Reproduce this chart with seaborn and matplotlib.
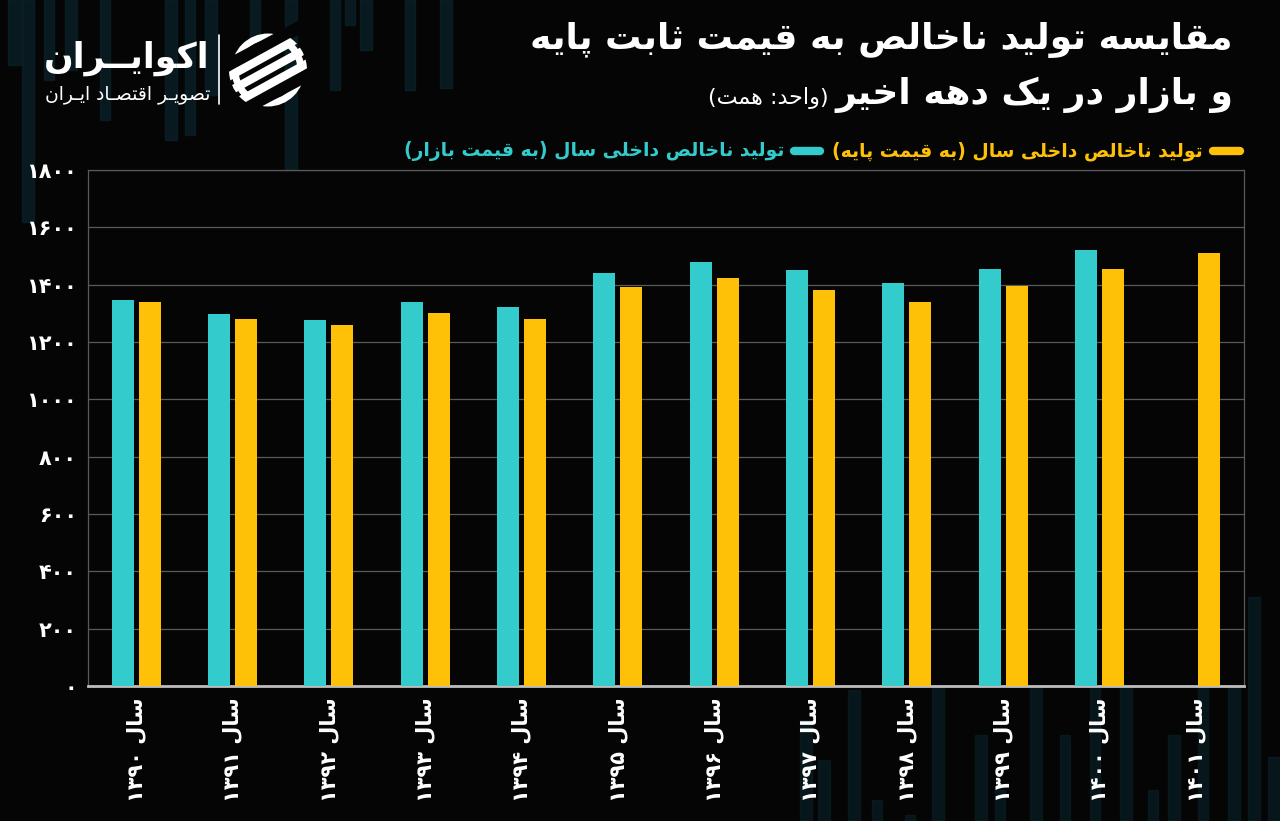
import re
import numpy as np
import pandas as pd
import matplotlib
matplotlib.use("Agg")
import matplotlib.pyplot as plt
from matplotlib.patches import Rectangle, Circle
import seaborn as sns

# ---------------- data ----------------
years = ["۱۳۹۰", "۱۳۹۱", "۱۳۹۲", "۱۳۹۳", "۱۳۹۴", "۱۳۹۵",
         "۱۳۹۶", "۱۳۹۷", "۱۳۹۸", "۱۳۹۹", "۱۴۰۰", "۱۴۰۱"]
gdp_market = [1347, 1297, 1277, 1341, 1322, 1439,
              1479, 1451, 1406, 1453, 1522, np.nan]
gdp_base = [1338, 1281, 1259, 1302, 1280, 1392,
            1423, 1381, 1340, 1394, 1455, 1509]
y_ticks = [0, 200, 400, 600, 800, 1000, 1200, 1400, 1600, 1800]

title_1 = "مقایسه تولید ناخالص به قیمت ثابت پایه"
title_2 = "و بازار در یک دهه اخیر"
unit_txt = "(واحد: همت)"
series_market = "تولید ناخالص داخلی سال (به قیمت بازار)"
series_base = "تولید ناخالص داخلی سال (به قیمت پایه)"
year_prefix = "سال"
brand = "اکوایــران"
brand_sub = "تصویـر اقتصـاد ایـران"

COL_MARKET = "#33CBCB"
COL_BASE = "#FFC107"
BG = "#050505"

# ---------------- minimal Persian shaping (presentation forms + RTL) ----------------
FORMS = {
    'ا': (0xFE8D, 0xFE8E),
    'ب': (0xFE8F, 0xFE90, 0xFE91, 0xFE92),
    'پ': (0xFB56, 0xFB57, 0xFB58, 0xFB59),
    'ت': (0xFE95, 0xFE96, 0xFE97, 0xFE98),
    'ث': (0xFE99, 0xFE9A, 0xFE9B, 0xFE9C),
    'ح': (0xFEA1, 0xFEA2, 0xFEA3, 0xFEA4),
    'خ': (0xFEA5, 0xFEA6, 0xFEA7, 0xFEA8),
    'د': (0xFEA9, 0xFEAA),
    'ر': (0xFEAD, 0xFEAE),
    'ز': (0xFEAF, 0xFEB0),
    'س': (0xFEB1, 0xFEB2, 0xFEB3, 0xFEB4),
    'ص': (0xFEB9, 0xFEBA, 0xFEBB, 0xFEBC),
    'ق': (0xFED5, 0xFED6, 0xFED7, 0xFED8),
    'ک': (0xFB8E, 0xFB8F, 0xFB90, 0xFB91),
    'ل': (0xFEDD, 0xFEDE, 0xFEDF, 0xFEE0),
    'م': (0xFEE1, 0xFEE2, 0xFEE3, 0xFEE4),
    'ن': (0xFEE5, 0xFEE6, 0xFEE7, 0xFEE8),
    'ه': (0xFEE9, 0xFEEA, 0xFEEB, 0xFEEC),
    'و': (0xFEED, 0xFEEE),
    'ی': (0xFBFC, 0xFBFD, 0xFBFE, 0xFBFF),
    '\u0640': (0x0640, 0x0640, 0x0640, 0x0640),
}


def shape(s):
    out = []
    n = len(s)
    for i, c in enumerate(s):
        if c not in FORMS:
            out.append(c)
            continue
        f = FORMS[c]
        prev = i > 0 and s[i - 1] in FORMS and len(FORMS[s[i - 1]]) == 4
        nxt = len(f) == 4 and i + 1 < n and s[i + 1] in FORMS
        if prev and nxt:
            cp = f[3]
        elif prev:
            cp = f[1]
        elif nxt:
            cp = f[2]
        else:
            cp = f[0]
        out.append(chr(cp))
    return "".join(out)


def fa(s):
    t = shape(s)[::-1]
    t = re.sub(r"[0-9\u06F0-\u06F9]+", lambda m: m.group(0)[::-1], t)
    return t.translate(str.maketrans("()", ")("))


# ---------------- figure ----------------
sns.set_theme(style="dark")
plt.rcParams["font.family"] = ["DejaVu Sans"]
W, H = 1280, 821
fig = plt.figure(figsize=(W / 100, H / 100), dpi=100, facecolor=BG)

# background / overlay axes in pixel coordinates
bg = fig.add_axes([0, 0, 1, 1], zorder=0)
bg.set_xlim(0, W)
bg.set_ylim(H, 0)
bg.axis("off")
bg.add_patch(Rectangle((0, 0), W, H, color=BG, zorder=0))

stripe = "#0a2229"
top_stripes = [(8, 14, 65), (22, 12, 222), (44, 10, 80), (65, 12, 70), (100, 10, 120),
               (165, 12, 140), (185, 10, 135), (205, 12, 95), (250, 10, 40),
               (285, 12, 222), (330, 10, 90), (345, 10, 25), (360, 12, 50),
               (405, 10, 90), (440, 12, 88)]
for x0, w, h in top_stripes:
    bg.add_patch(Rectangle((x0, 0), w, h, color=stripe, alpha=0.75, zorder=1))
bottom_stripes = [(800, 12, 720), (818, 12, 760), (848, 12, 690), (872, 10, 800),
                  (905, 10, 815), (932, 12, 650), (975, 12, 735), (995, 10, 790),
                  (1030, 12, 625), (1060, 10, 735), (1090, 10, 650), (1120, 12, 680),
                  (1148, 10, 790), (1168, 12, 735), (1198, 10, 615), (1228, 12, 610),
                  (1248, 12, 597), (1268, 12, 757)]
for x0, w, y0 in bottom_stripes:
    bg.add_patch(Rectangle((x0, y0), w, H - y0, color=stripe, alpha=0.6, zorder=1))

# ---------------- main chart ----------------
ax = fig.add_axes([88 / W, (H - 686) / H, (1244 - 88) / W, (686 - 170) / H], zorder=2)
ax.set_facecolor(BG)

lab_market = "market"
lab_base = "base"
df = pd.DataFrame({
    "year": years * 2,
    "value": gdp_market + gdp_base,
    "series": [lab_market] * len(years) + [lab_base] * len(years),
})
sns.barplot(data=df, x="year", y="value", hue="series", order=years,
            hue_order=[lab_market, lab_base],
            palette={lab_market: COL_MARKET, lab_base: COL_BASE},
            width=0.56, gap=0.18, saturation=1, legend=False, ax=ax, zorder=3,
            linewidth=0, edgecolor="none")

ax.set_xlim(-0.5, len(years) - 0.5)
ax.set_ylim(0, 1800)
ax.set_yticks(y_ticks)
ax.set_yticklabels([fa("".join("۰۱۲۳۴۵۶۷۸۹"[int(d)] for d in str(v))) for v in y_ticks],
                   color="white", fontsize=15, fontweight="bold")
ax.set_xticks(range(len(years)))
ax.set_xticklabels([fa(year_prefix + " " + y) for y in years], rotation=90,
                   color="white", fontsize=15, fontweight="bold", va="top", ha="center")
ax.tick_params(axis="both", length=0, pad=8)
ax.set_xlabel("")
ax.set_ylabel("")
ax.grid(axis="y", color="#5a5a5a", linewidth=0.9)
ax.grid(axis="x", visible=False)
ax.set_axisbelow(True)
for side in ["left", "right", "top"]:
    ax.spines[side].set_visible(True)
    ax.spines[side].set_color("#5a5a5a")
    ax.spines[side].set_linewidth(0.9)
ax.spines["bottom"].set_color("#bdbdbd")
ax.spines["bottom"].set_linewidth(2)

# ---------------- titles ----------------
fig.canvas.draw()
rend = fig.canvas.get_renderer()

bg.text(1233, 40, fa(title_1), color="white", fontsize=26, fontweight="bold",
        ha="right", va="center", zorder=5)
t2 = bg.text(1233, 95, fa(title_2), color="white", fontsize=26, fontweight="bold",
             ha="right", va="center", zorder=5)
fig.canvas.draw()
bb = t2.get_window_extent(rend)
bg.text(bb.x0 - 6, 98, fa(unit_txt), color="white", fontsize=16,
        ha="right", va="center", zorder=5)

# legend (manual, right-to-left)
ly = 151
bg.plot([1213, 1240], [ly, ly], color=COL_BASE, lw=6, solid_capstyle="round", zorder=5)
tb = bg.text(1203, ly, fa(series_base), color=COL_BASE, fontsize=13.5, fontweight="bold",
             ha="right", va="center", zorder=5)
fig.canvas.draw()
bbb = tb.get_window_extent(rend)
xr = bbb.x0 - 12
bg.plot([xr - 26, xr], [ly, ly], color=COL_MARKET, lw=6, solid_capstyle="round", zorder=5)
bg.text(xr - 36, ly, fa(series_market), color=COL_MARKET, fontsize=13.5, fontweight="bold",
        ha="right", va="center", zorder=5)

# ---------------- brand logo ----------------
bg.text(210, 58, fa(brand), color="white", fontsize=25, fontweight="bold",
        ha="right", va="center", zorder=5)
bg.text(210, 95, fa(brand_sub), color="white", fontsize=13.5,
        ha="right", va="center", zorder=5)
bg.plot([219, 219], [35, 104], color="white", lw=1.2, zorder=5)

cx, cy, r = 268, 70, 33
ring = Circle((cx, cy), r, fill=False, ec="white", lw=5, zorder=5)
bg.add_patch(ring)
# gaps in the ring where the swooshes exit
for off in [-26, 26]:
    bg.plot([cx - 45, cx + 45], [cy + off + 24, cy + off - 24], color=BG, lw=9,
            solid_capstyle="butt", zorder=5.5)
clip = Circle((cx, cy), r + 6, transform=bg.transData)
for off in [-15, 0, 15]:
    ln, = bg.plot([cx - 40, cx + 40], [cy + off + 22, cy + off - 22],
                  color="white", lw=6, solid_capstyle="butt", zorder=6)
    ln.set_clip_path(clip)

fig.savefig("out.png", dpi=100, facecolor=BG)
